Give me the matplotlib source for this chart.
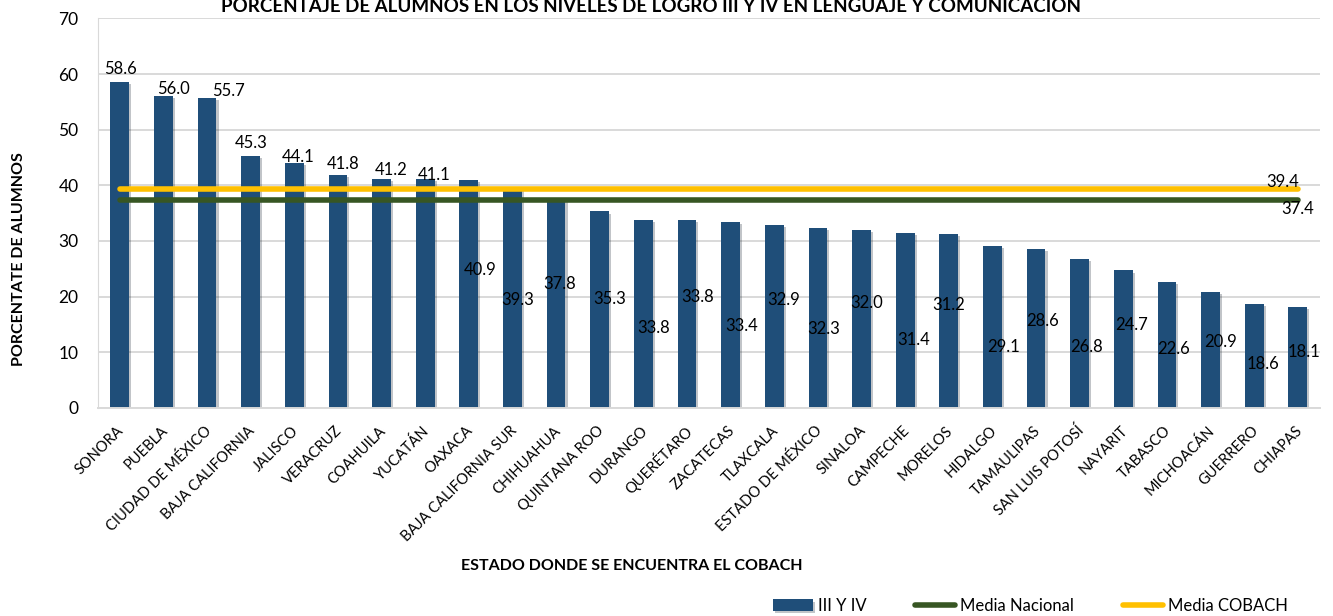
import matplotlib.pyplot as plt
import matplotlib.patheffects as pe
from matplotlib.transforms import ScaledTranslation
import numpy as np

plt.rcParams['font.family'] = ['Lato', 'DejaVu Sans']

estados = ['SONORA', 'PUEBLA', 'CIUDAD DE MÉXICO', 'BAJA CALIFORNIA', 'JALISCO',
           'VERACRUZ', 'COAHUILA', 'YUCATÁN', 'OAXACA', 'BAJA CALIFORNIA SUR',
           'CHIHUAHUA', 'QUINTANA ROO', 'DURANGO', 'QUERÉTARO', 'ZACATECAS',
           'TLAXCALA', 'ESTADO DE MÉXICO', 'SINALOA', 'CAMPECHE', 'MORELOS',
           'HIDALGO', 'TAMAULIPAS', 'SAN LUIS POTOSÍ', 'NAYARIT', 'TABASCO',
           'MICHOACÁN', 'GUERRERO', 'CHIAPAS']
porcentaje = [58.6, 56.0, 55.7, 45.3, 44.1, 41.8, 41.2, 41.1, 40.9, 39.3,
              37.8, 35.3, 33.8, 33.8, 33.4, 32.9, 32.3, 32.0, 31.4, 31.2,
              29.1, 28.6, 26.8, 24.7, 22.6, 20.9, 18.6, 18.1]
media_nacional = 37.4
media_cobach = 39.4

# where Excel left each data label (y in data units, x shift in categories)
label_y = [60.9, 57.3, 57.0, 47.6, 45.1, 43.8, 42.7, 41.8, 24.7, 19.4,
           22.2, 19.5, 14.4, 20.0, 14.7, 19.4, 14.1, 18.8, 12.2, 18.4,
           10.9, 15.6, 10.9, 14.9, 10.5, 11.8, 7.8, 10.0]
label_dx = [0.02, 0.22, 0.49, 0.02, 0.09, 0.13, 0.22, 0.2, 0.26, 0.13,
            0.09, 0.22, 0.24, 0.24, 0.26, 0.22, 0.13, 0.11, 0.2, 0.0,
            0.26, 0.15, 0.15, 0.2, 0.15, 0.24, 0.2, 0.13]

azul = '#1F4E79'
verde = '#375623'
amarillo = '#FFC000'

fig = plt.figure(figsize=(13.33, 6.16), dpi=100)
ax = fig.add_axes([0.0735, 0.338, 0.9165, 0.632])

x = np.arange(len(estados))
bars = ax.bar(x, porcentaje, width=0.43, color=azul, zorder=2, label='III Y IV')
for b in bars:
    b.set_path_effects([pe.SimplePatchShadow(offset=(1.5, -1.5), alpha=0.25), pe.Normal()])

l_nac, = ax.plot(x, [media_nacional] * len(x), color=verde, lw=4, solid_capstyle='round',
                 zorder=3, label='Media Nacional')
l_cob, = ax.plot(x, [media_cobach] * len(x), color=amarillo, lw=4, solid_capstyle='round',
                 zorder=3, label='Media COBACH')

for i, v in enumerate(porcentaje):
    ax.text(x[i] + label_dx[i], label_y[i], f'{v:.1f}', ha='center', va='center',
            fontsize=12, color='black', zorder=4)
ax.text(x[-1] - 0.35, media_cobach + 1.2, f'{media_cobach:.1f}', ha='center',
        va='center', fontsize=12, zorder=4)
ax.text(x[-1] + 0.0, media_nacional - 1.7, f'{media_nacional:.1f}', ha='center',
        va='center', fontsize=12, zorder=4)

ax.set_xlim(-0.5, len(estados) - 0.5)
ax.set_ylim(0, 70)
ax.set_yticks(range(0, 71, 10))
ax.yaxis.grid(True, color='#d9d9d9', lw=1.4, zorder=0)
ax.set_axisbelow(True)
for s in ['top', 'right']:
    ax.spines[s].set_visible(False)
ax.spines['left'].set_color('#d9d9d9')
ax.spines['bottom'].set_color('#d9d9d9')
ax.spines['bottom'].set_linewidth(1.4)
ax.tick_params(axis='y', length=0, pad=14, labelsize=12.5)
ax.tick_params(axis='x', length=0, pad=15)

ax.set_xticks(x)
ax.set_xticklabels(estados, fontsize=10.5, rotation=45, ha='right', va='center',
                   rotation_mode='anchor')
off = ScaledTranslation(0.02, 0, fig.dpi_scale_trans)
for lab in ax.get_xticklabels():
    lab.set_transform(lab.get_transform() + off)

fig.text(0.488, 1 - 12 / 616, 'PORCENTAJE DE ALUMNOS EN LOS NIVELES DE LOGRO III Y IV EN LENGUAJE Y COMUNICACIÓN',
         ha='center', va='baseline', fontsize=13.5, fontweight='bold')
fig.text(0.014, 0.58, 'PORCENTATE DE ALUMNOS', rotation=90, ha='center', va='center',
         fontsize=11.5, fontweight='bold')
fig.text(0.474, 1 - 566 / 616, 'ESTADO DONDE SE ENCUENTRA EL COBACH', ha='center',
         va='center', fontsize=11.5, fontweight='bold')

fig.legend(handles=[bars, l_nac, l_cob], loc='center', bbox_to_anchor=(0.773, 0.016),
           ncol=3, frameon=False, fontsize=12, handlelength=2.4, handletextpad=0.3,
           columnspacing=2.9)

fig.savefig('out.png', dpi=100)
